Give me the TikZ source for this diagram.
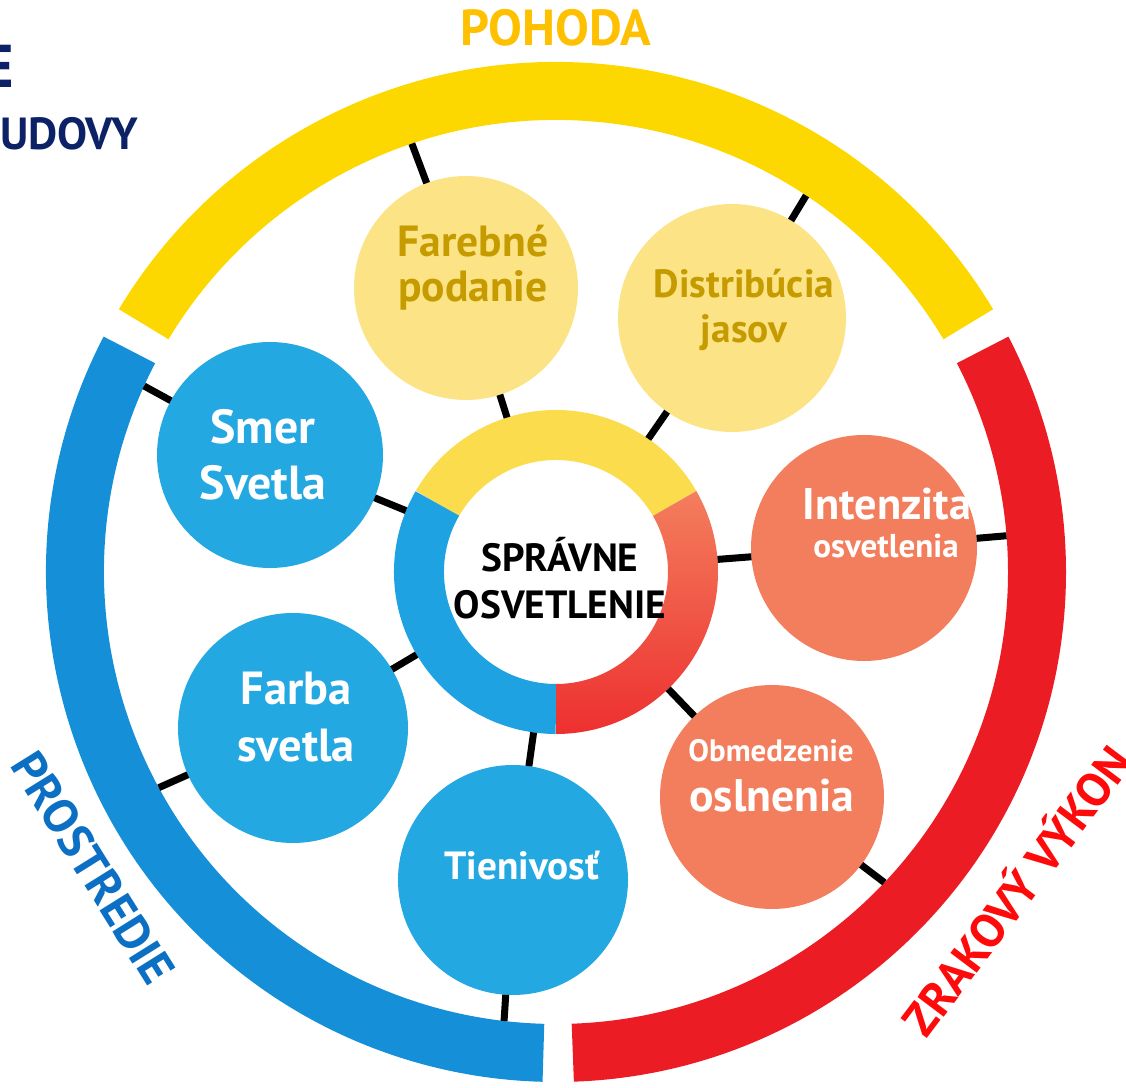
\documentclass[tikz,border=0pt]{standalone}
\usepackage{fontspec}
\setmainfont{PT Sans}
\usetikzlibrary{calc}

\definecolor{pohodaYellow}{HTML}{FDD700}
\definecolor{prostrBlue}{HTML}{1590D8}
\definecolor{vykonRed}{HTML}{EC1C24}
\definecolor{paleYellow}{HTML}{FCE385}
\definecolor{goldText}{HTML}{C59B00}
\definecolor{bubbleBlue}{HTML}{23A8E1}
\definecolor{bubbleOrange}{HTML}{F37E5D}
\definecolor{ringYellow}{HTML}{FADC4C}
\definecolor{ringBlue}{HTML}{1FA2E2}
\definecolor{titleYellow}{HTML}{FFC000}
\definecolor{titleBlue}{HTML}{0B6FC3}
\definecolor{titleRed}{HTML}{FF0A0A}
\definecolor{navy}{HTML}{0D2266}

\begin{document}
\begin{tikzpicture}[x=0.25mm, y=0.25mm, font=\bfseries,
  bubble/.style={circle, inner sep=0pt, outer sep=0pt},
  tick/.style={line width=1.75mm, black}]
\useasboundingbox (0,0) rectangle (1126,1088);
\clip (0,0) rectangle (1126,1088);
\coordinate (c) at (556,516);

% outer arcs %
\draw[line width=14.5mm, pohodaYellow] ($(c)+(31:481)$) arc[start angle=31, end angle=149, radius=481];
\draw[line width=14.5mm, prostrBlue] ($(c)+(152.5:481)$) arc[start angle=152.5, end angle=268.5, radius=481];
\draw[line width=14.5mm, vykonRed] ($(c)+(-88:481)$) arc[start angle=-88, end angle=27.5, radius=481];

% inner ring %
\draw[line width=12.5mm, ringYellow] ($(c)+(30:137)$) arc[start angle=30, end angle=150, radius=137];
\draw[line width=12.5mm, ringBlue] ($(c)+(150:137)$) arc[start angle=150, end angle=270, radius=137];
\shade[top color=bubbleOrange, bottom color=vykonRed!80!bubbleOrange] ($(c)+(-90:162)$) arc[start angle=-90, end angle=30, radius=162]
  -- ($(c)+(30:112)$) arc[start angle=30, end angle=-90, radius=112] -- cycle;

% nodes %
\node[bubble, minimum size=81mm] (ring) at (c) {};
\node[align=center, font=\bfseries\fontsize{28}{33}\selectfont] (ring-t) at (560,510) {SPRÁVNE\\OSVETLENIE};

\node[bubble, fill=paleYellow, minimum size=56mm] (farebne) at (466,800) {};
\node[bubble, fill=paleYellow, minimum size=57mm] (distrib) at (732,770) {};
\node[bubble, fill=bubbleBlue, minimum size=56.5mm] (smer) at (270,633) {};
\node[bubble, fill=bubbleBlue, minimum size=57.5mm] (farba) at (293,360) {};
\node[bubble, fill=bubbleBlue, minimum size=57.5mm] (tien) at (513,208) {};
\node[bubble, fill=bubbleOrange, minimum size=56.5mm] (intenz) at (864,540) {};
\node[bubble, fill=bubbleOrange, minimum size=56mm] (obmed) at (772,291) {};

\node[text=goldText, align=center, font=\bfseries\fontsize{31}{32}\selectfont] (farebne-t) at (473,820) {Farebné\\podanie};
\node[text=goldText, align=center, font=\bfseries\fontsize{28}{32}\selectfont] (distrib-t) at (744,778) {Distribúcia\\jasov};
\node[text=white, align=center, font=\bfseries\fontsize{34}{40}\selectfont] (smer-t) at (263,633) {Smer\\Svetla};
\node[text=white, align=center, font=\bfseries\fontsize{33}{40.5}\selectfont] (farba-t) at (296,371) {Farba\\svetla};
\node[text=white, font=\bfseries\fontsize{28}{32}\selectfont] (tien-t) at (522,222) {Tienivosť};
\node[text=white, anchor=base, font=\bfseries\fontsize{31.5}{36}\selectfont] (intenz-t) at (887,568) {Intenzita};
\node[text=white, anchor=base, font=\bfseries\fontsize{23.5}{28}\selectfont] (intenz-t2) at (886,530) {osvetlenia};
\node[text=white, anchor=base, font=\bfseries\fontsize{22}{26}\selectfont] (obmed-t) at (771,326) {Obmedzenie};
\node[text=white, anchor=base, font=\bfseries\fontsize{32.5}{38}\selectfont] (obmed-t2) at (772,276) {oslnenia};

\node[text=titleYellow, font=\bfseries\fontsize{36}{42}\selectfont] (pohoda) at (556,1060) {POHODA};
\node[text=titleBlue, rotate=-58, font=\bfseries\fontsize{34}{40}\selectfont] (prostredie) at (93,220) {PROSTREDIE};
\node[text=titleRed, rotate=53, font=\bfseries\fontsize{33.5}{40}\selectfont] (vykon) at (1015,199) {ZRAKOVÝ VÝKON};
\node[text=navy, anchor=base east, inner sep=0pt, font=\bfseries\fontsize{43}{50}\selectfont] (head-e) at (14,1000) {E};
\node[text=navy, anchor=base east, inner sep=0pt, font=\bfseries\fontsize{32}{36}\selectfont] (head-budovy) at (138,938) {UDOVY};

% edges %
\coordinate (farebne-o) at ($(c)+(108.6:452)$);
\coordinate (distrib-o) at ($(c)+(56.4:452)$);
\coordinate (smer-o) at ($(c)+(155.7:452)$);
\coordinate (farba-o) at ($(c)+(208.5:452)$);
\coordinate (tien-o) at ($(c)+(263.4:452)$);
\coordinate (intenz-o) at ($(c)+(4.6:452)$);
\coordinate (obmed-o) at ($(c)+(-43.4:452)$);

\draw[tick] (farebne) -- (ring);
\draw[tick] (distrib) -- (ring);
\draw[tick] (smer) -- (ring);
\draw[tick] (farba) -- (ring);
\draw[tick] (tien) -- (ring);
\draw[tick] (intenz) -- (ring);
\draw[tick] (obmed) -- (ring);

\draw[tick] (farebne) -- (farebne-o);
\draw[tick] (distrib) -- (distrib-o);
\draw[tick] (smer) -- (smer-o);
\draw[tick] (farba) -- (farba-o);
\draw[tick] (tien) -- (tien-o);
\draw[tick] (intenz) -- (intenz-o);
\draw[tick] (obmed) -- (obmed-o);
\end{tikzpicture}
\end{document}
